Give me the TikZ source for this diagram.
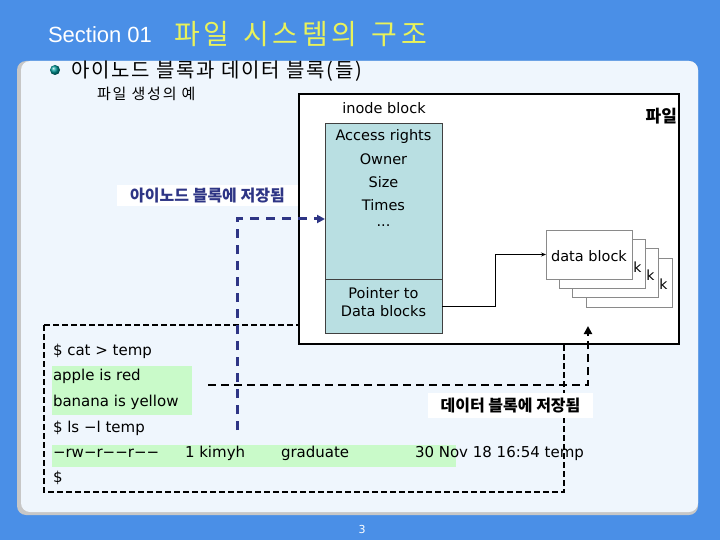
\documentclass[tikz,border=0pt]{standalone}
\usepackage{fontspec}
\setmainfont{DejaVu Sans}
\newfontfamily\kr{Noto Sans CJK KR}
\newfontfamily\lat{Liberation Sans}
\usetikzlibrary{arrows.meta}
\definecolor{bgblue}{HTML}{4A8FE7}
\definecolor{panelc}{HTML}{EFF6FD}
\definecolor{titley}{HTML}{E9F25A}
\definecolor{inodec}{HTML}{B9DFE2}
\definecolor{hlgreen}{HTML}{C9FAC9}
\definecolor{navy}{HTML}{2E3585}
\definecolor{dbgray}{HTML}{8A8A8A}
\begin{document}
\begin{tikzpicture}[x=1pt,y=-1pt,
  every node/.style={inner sep=0pt,outer sep=0pt},
  cmd/.style={anchor=base west,font=\fontsize{15}{15}\selectfont},
  itext/.style={font=\fontsize{14.5}{14.5}\selectfont},
  dbbox/.style={draw=dbgray,line width=0.8pt,fill=white,minimum width=86pt,minimum height=49pt},
  klabel/.style={font=\fontsize{14}{14}\selectfont},
  inodepart/.style={draw=black!75,line width=0.8pt,fill=inodec,minimum width=117pt},
  savelabel/.style={fill=white,font=\kr\bfseries\fontsize{16}{16}\selectfont},
  navydash/.style={draw=navy,line width=3pt,dash pattern=on 9pt off 7pt},
  blackdash/.style={draw=black,line width=2.5pt,dash pattern=on 8pt off 5pt}
]
\useasboundingbox (0,0) rectangle (720,540);
\fill[bgblue] (0,0) rectangle (720,540);
% panel
\fill[black!22,rounded corners=9pt] (17,61) rectangle (698,515);
\fill[panelc,rounded corners=9pt] (21,61) rectangle (698,512);
% title
\node[anchor=base west,text=white,font=\lat\fontsize{22}{22}\selectfont] (sec) at (48,43) {Section 01};
\node[anchor=base west,text=titley,font=\kr\fontsize{28}{28}\selectfont\addfontfeatures{LetterSpace=12}] (title) at (174,45) {파일\hspace{15pt}시스템의\hspace{15pt}구조};
% bullet
\shade[ball color=teal!80!cyan] (55,70) circle (5pt);
\node[anchor=base west,font=\kr\fontsize{20}{20}\selectfont\addfontfeatures{LetterSpace=9}] (head) at (71,78) {아이노드 블록과 데이터 블록(들)};
\node[anchor=base west,font=\kr\fontsize{15}{15}\selectfont\addfontfeatures{LetterSpace=12}] (sub) at (97,100) {파일 생성의 예};
% command area
\draw[black,line width=1.8pt,dash pattern=on 6pt off 3pt] (44,325) rectangle (564,492);
\fill[hlgreen] (52,366) rectangle (192,415);
\fill[hlgreen] (52,445) rectangle (456,467);
\node[cmd] (l1) at (53,355) {\$ cat > temp};
\node[cmd] (l2) at (53,380) {apple is red};
\node[cmd] (l3) at (53,406) {banana is yellow};
\node[cmd] (l4) at (53,432) {\$ ls −l temp};
\node[cmd] (l5a) at (53,457) {−rw−r−−r−−};
\node[cmd] (l5b) at (185,457) {1 kimyh};
\node[cmd] (l5c) at (281,457) {graduate};
\node[cmd] (l5d) at (415,457) {30 Nov 18 16:54 temp};
\node[cmd] (l6) at (53,482) {\$};
% file box
\node[draw=black,line width=2.2pt,fill=white,minimum width=380pt,minimum height=250pt] (file) at (489,219) {};
\node[itext] (inodelbl) at (384,108) {inode block};
\node[anchor=east,font=\kr\bfseries\fontsize{17}{17}\selectfont] (filelbl) at (677,116) {파일};
\node[inodepart,minimum height=156pt] (itop) at (383.5,201) {};
\node[inodepart,minimum height=54pt] (ptr) at (383.5,306) {};
\node[itext] (t1) at (383.5,137) {Access rights};
\node[itext] (t2) at (383.5,159) {Owner};
\node[itext] (t3) at (383.5,182) {Size};
\node[itext] (t4) at (383.5,205) {Times};
\node[itext] (t5) at (383.5,226) {...};
\node[itext] (p1) at (383.5,293) {Pointer to};
\node[itext] (p2) at (383.5,311) {Data blocks};
% data blocks
\node[dbbox] (db4) at (629,282.5) {};
\node[dbbox] (db3) at (615.5,273) {};
\node[dbbox] (db2) at (602,264) {};
\node[dbbox] (db1) at (589,254.5) {};
\node[itext] (dbt) at (589,256) {data block};
\node[klabel] (k1) at (637.5,267) {k};
\node[klabel] (k2) at (650.5,275) {k};
\node[klabel] (k3) at (663.5,284) {k};
\coordinate (bend) at (495,306);
\draw[black,line width=0.8pt,-{Stealth[length=5pt,width=4pt]}] (ptr.east) -- (bend) |- (db1.west);
% inode storage connector
\coordinate (n0) at (237,430);
\coordinate (n1) at (237,219);
\draw[navydash,-{Triangle[length=8pt,width=8pt,fill=navy]}] (n0) -- (n1) -- (itop.west |- n1);
\node[savelabel,text=navy,minimum width=181pt,minimum height=21pt] (lab1) at (207.5,195.5) {아이노드 블록에 저장됨};
% data storage connector
\coordinate (d0) at (208,385);
\coordinate (d1) at (588,385);
\coordinate (d2) at (588,326);
\draw[blackdash] (d0) -- (d1) -- ([yshift=-8pt]d2);
\draw[black,line width=2.5pt,-{Triangle[length=8pt,width=8pt]}] ([yshift=-8pt]d2) -- (d2);
\node[savelabel,text=black,minimum width=165pt,minimum height=25pt] (lab2) at (510.5,405.5) {데이터 블록에 저장됨};
% page number
\node[text=white,font=\fontsize{11}{11}\selectfont] (pg) at (362,529) {3};
\end{tikzpicture}
\end{document}
